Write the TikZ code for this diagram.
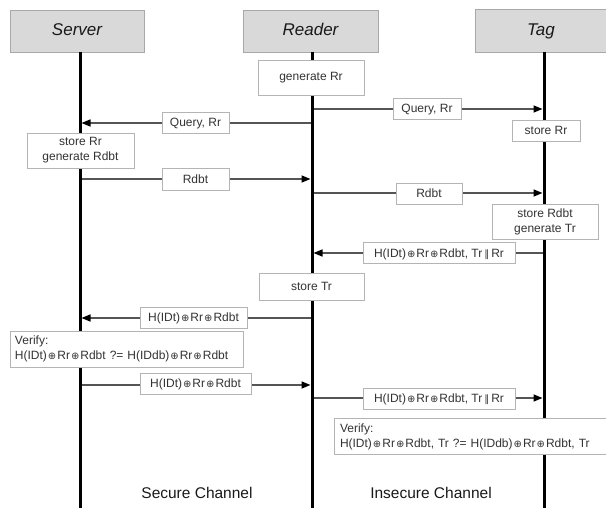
\documentclass[tikz,border=0pt]{standalone}
\usepackage{fontspec}
\setmainfont{Liberation Sans}
\newfontfamily\symfont{DejaVu Sans}
\usetikzlibrary{arrows.meta}
\definecolor{hdrfill}{HTML}{D9D9D9}
\definecolor{hdrline}{HTML}{A8A8A8}
\definecolor{boxline}{HTML}{B4B4B4}
\definecolor{msgline}{HTML}{555555}
\definecolor{txtgray}{HTML}{333333}
\newcommand{\xo}{\kern1pt{\symfont\fontsize{10}{12}\selectfont ⊕}\kern1pt}
\newcommand{\cc}{\,{\symfont\fontsize{10}{12}\selectfont ∥}\,}
\begin{document}
\begin{tikzpicture}[x=1pt,y=-1pt,
  hdr/.style={fill=hdrfill, draw=hdrline, line width=0.8pt, inner sep=0pt,
    minimum height=42pt, text height=13pt, text depth=3pt,
    font=\fontsize{17}{20}\selectfont\itshape, text=black!90},
  lifeline/.style={line width=3pt, black},
  msg/.style={draw=msgline, line width=1.5pt, shorten <=1.5pt, shorten >=1.5pt,
    -{Triangle[length=9pt,width=7pt,fill=black,color=black]}},
  box/.style={draw=boxline, fill=white, line width=0.8pt, inner sep=0pt,
    minimum height=21pt, font=\fontsize{12}{15}\selectfont, text=txtgray},
  lbl/.style={box, text height=10pt, text depth=1.5pt},
  act/.style={box, align=center},
  actl/.style={box, align=left, text width=#1, inner xsep=5pt},
  chan/.style={font=\fontsize{15.5}{18}\selectfont, text=black!90}
]
\useasboundingbox (0,0) rectangle (606,508);

% headers
\node[hdr, minimum width=134pt] (srv) at (77,31) {Server};
\node[hdr, minimum width=135pt] (rdr) at (310.5,31) {Reader};
\node[hdr, draw=none, minimum width=130pt] (tag) at (541,31) {Tag};
\draw[hdrline, line width=0.8pt] (tag.north east) -- (tag.north west) -- (tag.south west) -- (tag.south east);

% lifelines
\coordinate (sTop) at (80,52);  \coordinate (sBot) at (80,508);
\coordinate (rTop) at (312,52); \coordinate (rBot) at (312,508);
\coordinate (tTop) at (544,52); \coordinate (tBot) at (544,508);
\draw[lifeline] (sTop) -- (sBot);
\draw[lifeline] (rTop) -- (rBot);
\draw[lifeline] (tTop) -- (tBot);

% message end points
\coordinate (r1) at (312,109); \coordinate (t1) at (544,109);
\coordinate (r2) at (312,123); \coordinate (s2) at (80,123);
\coordinate (s3) at (80,179);  \coordinate (r3) at (312,179);
\coordinate (r4) at (312,193); \coordinate (t4) at (544,193);
\coordinate (t5) at (544,253); \coordinate (r5) at (312,253);
\coordinate (r6) at (312,318); \coordinate (s6) at (80,318);
\coordinate (s7) at (80,385);  \coordinate (r7) at (312,385);
\coordinate (r8) at (312,398); \coordinate (t8) at (544,398);

\draw[msg] (r1) -- (t1);
\draw[msg] (r2) -- (s2);
\draw[msg] (s3) -- (r3);
\draw[msg] (r4) -- (t4);
\draw[msg] (t5) -- (r5);
\draw[msg] (r6) -- (s6);
\draw[msg] (s7) -- (r7);
\draw[msg] (r8) -- (t8);

% message labels
\node[lbl, minimum width=68pt] (l1) at (427,108.5) {Query, Rr};
\node[lbl, minimum width=67pt] (l2) at (195.5,122.5) {Query, Rr};
\node[lbl, minimum width=67pt, minimum height=22pt] (l3) at (195.5,179) {Rdbt};
\node[lbl, minimum width=66pt] (l4) at (429,193.5) {Rdbt};
\node[lbl, minimum width=152pt] (l5) at (439,253) {H(IDt)\xo Rr\xo Rdbt, Tr\cc Rr};
\node[lbl, minimum width=107pt] (l6) at (193.5,317.5) {H(IDt)\xo Rr\xo Rdbt};
\node[lbl, minimum width=111pt] (l7) at (195.5,383.5) {H(IDt)\xo Rr\xo Rdbt};
\node[lbl, minimum width=152pt] (l8) at (439,398.5) {H(IDt)\xo Rr\xo Rdbt, Tr\cc Rr};

% action boxes
\node[act, minimum width=106pt, minimum height=35pt] (genRr) at (311,77.5) {generate Rr};
\node[lbl, minimum width=68pt] (stRrT) at (546,130.5) {store Rr};
\node[act, minimum width=107pt, minimum height=35pt] (stRrS) at (80.5,150.5) {store Rr\\generate Rdbt};
\node[act, minimum width=106pt, minimum height=35pt] (stRdbt) at (545,221.5) {store Rdbt\\generate Tr};
\node[lbl, minimum width=105pt, minimum height=27pt] (stTr) at (311.5,286.5) {store Tr};
\node[actl=223pt, minimum height=36pt] (vS) at (126.5,349)
  {Verify:\\H(IDt)\xo Rr\xo Rdbt ?= H(IDdb)\xo Rr\xo Rdbt};
\node[actl=261pt, draw=none, minimum height=35pt] (vT) at (470.5,436.5)
  {Verify:\\H(IDt)\xo Rr\xo Rdbt, Tr ?= H(IDdb)\xo Rr\xo Rdbt, Tr};
\draw[boxline, line width=0.8pt] (vT.north east) -- (vT.north west) -- (vT.south west) -- (vT.south east);

% channel captions
\node[chan] (sec) at (197,493) {Secure Channel};
\node[chan] (insec) at (431,493) {Insecure Channel};
\end{tikzpicture}
\end{document}
